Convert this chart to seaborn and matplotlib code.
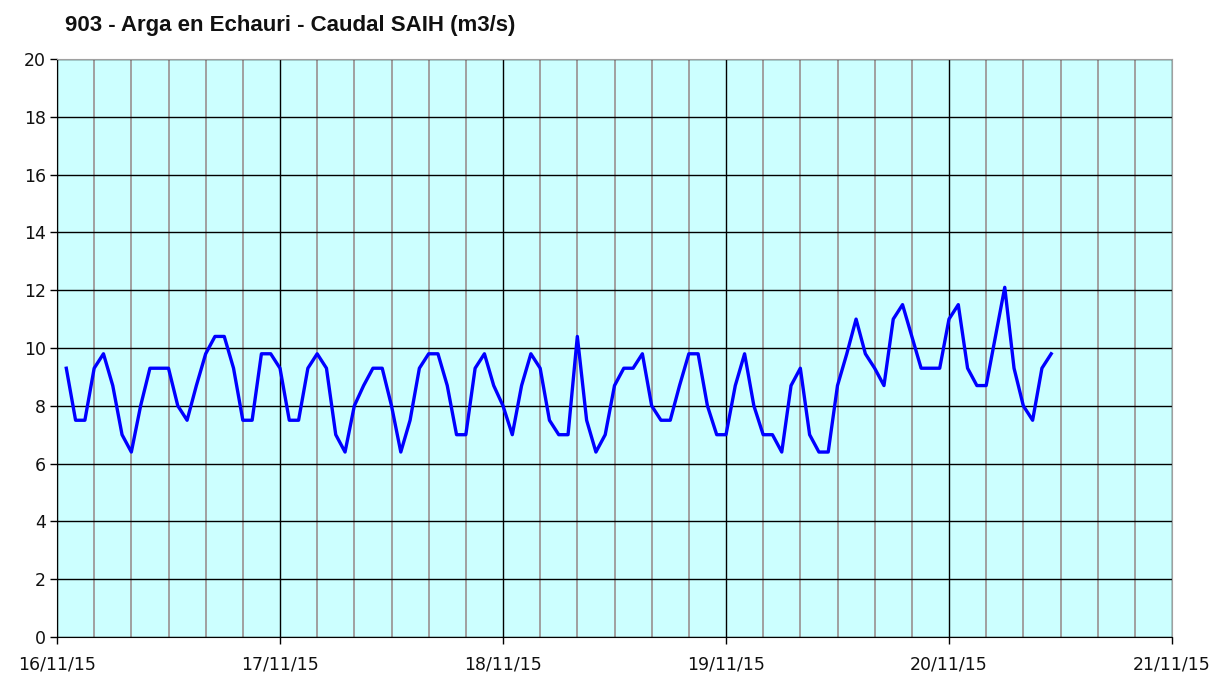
import matplotlib
matplotlib.use("Agg")
import matplotlib.pyplot as plt
import matplotlib.dates as mdates
import numpy as np
import pandas as pd
import seaborn as sns

# hourly readings starting 16/11/15 01:00
start = "2015-11-16 01:00"
caudal = [
    9.3, 7.5, 7.5, 9.3, 9.8, 8.7, 7.0, 6.4, 8.0, 9.3,
    9.3, 9.3, 8.0, 7.5, 8.7, 9.8, 10.4, 10.4, 9.3, 7.5,
    7.5, 9.8, 9.8, 9.3, 7.5, 7.5, 9.3, 9.8, 9.3, 7.0,
    6.4, 8.0, 8.7, 9.3, 9.3, 8.0, 6.4, 7.5, 9.3, 9.8,
    9.8, 8.7, 7.0, 7.0, 9.3, 9.8, 8.7, 8.0, 7.0, 8.7,
    9.8, 9.3, 7.5, 7.0, 7.0, 10.4, 7.5, 6.4, 7.0, 8.7,
    9.3, 9.3, 9.8, 8.0, 7.5, 7.5, 8.7, 9.8, 9.8, 8.0,
    7.0, 7.0, 8.7, 9.8, 8.0, 7.0, 7.0, 6.4, 8.7, 9.3,
    7.0, 6.4, 6.4, 8.7, 9.8, 11.0, 9.8, 9.3, 8.7, 11.0,
    11.5, 10.4, 9.3, 9.3, 9.3, 11.0, 11.5, 9.3, 8.7, 8.7,
    10.4, 12.1, 9.3, 8.0, 7.5, 9.3, 9.8,
]
title = "903 - Arga en Echauri - Caudal SAIH (m3/s)"
x_min, x_max = "2015-11-16", "2015-11-21"
y_ticks = list(range(0, 21, 2))

df = pd.DataFrame({
    "fecha": pd.date_range(start, periods=len(caudal), freq="h"),
    "caudal": caudal,
})

fig = plt.figure(figsize=(12.21, 6.73), dpi=100)
ax = fig.add_axes([57 / 1221, 1 - 637 / 673, (1172 - 57) / 1221, (637 - 59) / 673])
ax.set_facecolor("#CCFFFF")

sns.lineplot(data=df, x="fecha", y="caudal", ax=ax, color="#0000FF", linewidth=2.4)

ax.set_xlim(pd.Timestamp(x_min), pd.Timestamp(x_max))
ax.set_ylim(0, 20)
ax.set_yticks(y_ticks)
ax.xaxis.set_major_locator(mdates.DayLocator())
ax.xaxis.set_minor_locator(mdates.HourLocator(byhour=range(0, 24, 4)))
ax.xaxis.set_major_formatter(mdates.DateFormatter("%d/%m/%y"))

ax.grid(which="minor", axis="x", color="#A0A0A0", linewidth=1.4)
ax.grid(which="major", axis="x", color="black", linewidth=1.0)
ax.grid(which="major", axis="y", color="black", linewidth=1.0)
ax.set_axisbelow(True)

for side in ["top", "right"]:
    ax.spines[side].set_color("#A0A0A0")
for side in ["left", "bottom"]:
    ax.spines[side].set_color("black")

ax.tick_params(axis="both", which="major", length=5, width=1, color="black",
               labelsize=12.5, labelcolor="#111111", pad=3)
ax.tick_params(axis="x", which="minor", length=0)
ax.tick_params(axis="x", pad=8)
ax.set_xlabel("")
ax.set_ylabel("")

fig.text(65 / 1221, 1 - 25 / 673, title, fontsize=16, fontweight="bold",
         family="Liberation Sans", va="center", ha="left", color="#111111")

fig.savefig("out.png", dpi=100)
